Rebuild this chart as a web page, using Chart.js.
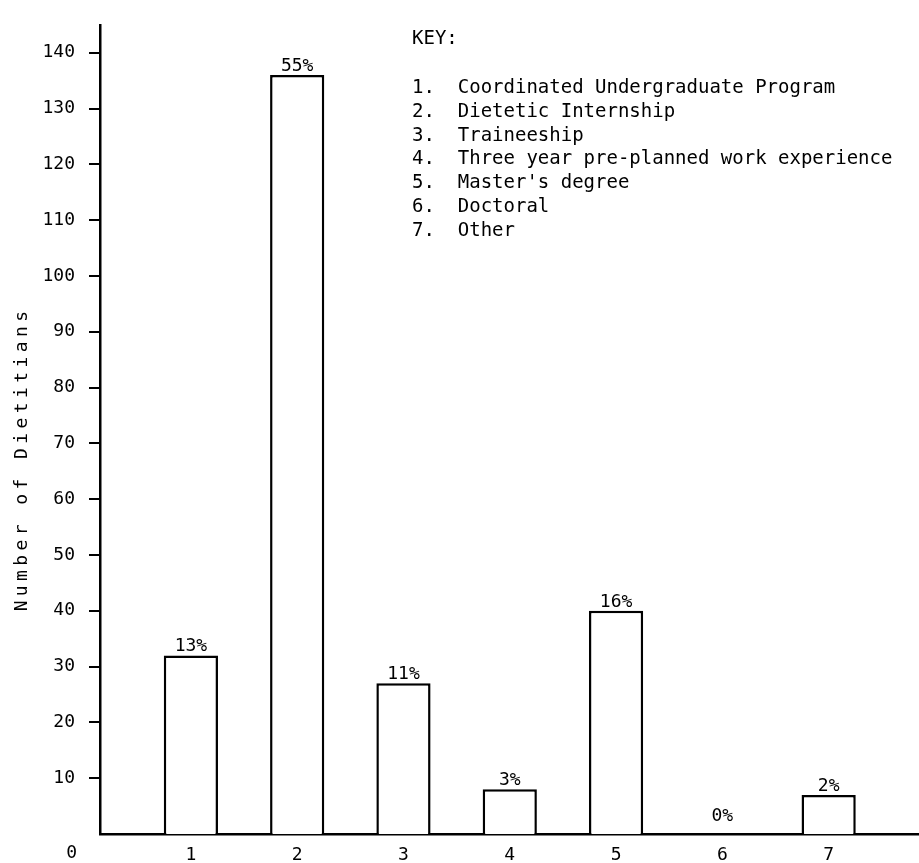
<!DOCTYPE html>
<html>
<head>
<meta charset="utf-8">
<script src="https://cdn.jsdelivr.net/npm/chart.js@4.4.0/dist/chart.umd.min.js"></script>
<style>
  html, body { margin: 0; padding: 0; background: #fff; }
</style>
</head>
<body>
<canvas id="chart" width="919" height="863"></canvas>
<script>
// Values
const programs = [1, 2, 3, 4, 5, 6, 7];
const dietitians = [32, 136, 27, 8, 40, 0, 7];
const percentLabels = ['13%', '55%', '11%', '3%', '16%', '0%', '2%'];
const yTicks = [10, 20, 30, 40, 50, 60, 70, 80, 90, 100, 110, 120, 130, 140];
const keyTitle = 'KEY:';
const keyLabels = [
    'Coordinated Undergraduate Program',
    'Dietetic Internship',
    'Traineeship',
    'Three year pre-planned work experience',
    "Master's degree",
    'Doctoral',
    'Other'
];
const yTitle = 'Number of Dietitians';

const FONT = '"DejaVu Sans Mono", "Liberation Mono", monospace';
const INK = '#000';

// percent labels, key, y title and the stray "0" under the axis
const annotate = {
    id: 'annotate',
    afterDraw(chart) {
        const ctx = chart.ctx;
        const meta = chart.getDatasetMeta(0);
        const yScale = chart.scales.y;
        ctx.save();
        ctx.fillStyle = INK;
        ctx.textBaseline = 'alphabetic';

        // bar labels
        ctx.font = '18px ' + FONT;
        ctx.textAlign = 'center';
        meta.data.forEach((bar, i) => {
            const gap = dietitians[i] ? 4 : 13;
            ctx.fillText(percentLabels[i], bar.x, bar.y - gap);
        });

        // "0" sits on the x label row, left of the axis
        ctx.textAlign = 'right';
        ctx.fillText('0', 77, yScale.getPixelForValue(0) + 24);

        // key
        ctx.font = '19px ' + FONT;
        ctx.textAlign = 'left';
        ctx.fillText(keyTitle, 412, 44);
        keyLabels.forEach((label, i) => {
            ctx.fillText((i + 1) + '.  ' + label, 412, 93 + i * 23.8);
        });

        // y axis title, spaced out like the typewriter original
        ctx.font = '18px ' + FONT;
        ctx.letterSpacing = '4.4px';
        ctx.textAlign = 'center';
        ctx.textBaseline = 'middle';
        ctx.translate(22, 461);
        ctx.rotate(-Math.PI / 2);
        ctx.fillText(yTitle, 2, 0);
        ctx.restore();
    }
};

const ctx = document.getElementById('chart').getContext('2d');
new Chart(ctx, {
    type: 'bar',
    data: {
        datasets: [{
            data: programs.map((p, i) => ({ x: p, y: dietitians[i] })),
            backgroundColor: '#fff',
            borderColor: INK,
            borderWidth: 2.5,
            borderSkipped: 'start',
            barPercentage: 0.51,
            categoryPercentage: 1
        }]
    },
    options: {
        responsive: false,
        devicePixelRatio: 1,
        animation: false,
        layout: { padding: { top: 10, right: 0, bottom: 0, left: 0 } },
        plugins: {
            legend: { display: false },
            tooltip: { enabled: false }
        },
        scales: {
            x: {
                type: 'linear',
                offset: false,
                min: 0.145,
                max: 7.85,
                afterFit: (scale) => { scale.height = 29; },
                grid: { display: false, offset: false },
                border: { display: true, color: INK, width: 2.5 },
                ticks: {
                    stepSize: 1,
                    includeBounds: false,
                    autoSkip: false,
                    maxRotation: 0,
                    padding: 3,
                    color: INK,
                    font: { family: FONT, size: 18 },
                    callback: (v) => String(v)
                }
            },
            y: {
                min: 0,
                max: 145,
                afterFit: (scale) => { scale.width = 100; },
                afterBuildTicks: (scale) => {
                    scale.ticks = yTicks.map(v => ({ value: v }));
                },
                grid: {
                    drawOnChartArea: false,
                    color: INK,
                    lineWidth: 2,
                    tickLength: 11
                },
                border: { display: true, color: INK, width: 2.5 },
                ticks: {
                    padding: 14,
                    color: INK,
                    font: { family: FONT, size: 18 }
                }
            }
        }
    },
    plugins: [annotate]
});
</script>
</body>
</html>
